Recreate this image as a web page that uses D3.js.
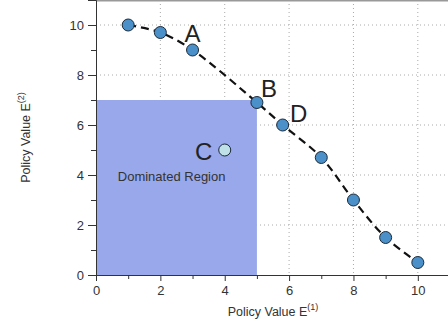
<!DOCTYPE html>
<meta charset="utf-8">
<script src="https://d3js.org/d3.v7.min.js"></script>
<style>
  body { margin: 0; background: #fff; }
  text { font-family: "Liberation Sans", Arial, sans-serif; }
</style>
<div id="chart"></div>
<script>
  // pareto front points
  var frontX = [1, 2, 3, 5, 5.8, 7, 8, 9, 10];
  var frontY = [10, 9.7, 9, 6.9, 6, 4.7, 3, 1.5, 0.5];
  // labelled points
  var labels = [
    { name: "A", x: 3, y: 9 },
    { name: "B", x: 5, y: 6.9 },
    { name: "D", x: 5.8, y: 6 },
    { name: "C", x: 4, y: 5 }
  ];
  var pointC = { x: 4, y: 5 };
  var dominated = { x: 5, y: 7 };
  var majorTicks = [0, 2, 4, 6, 8, 10];
  var minorTicks = [1, 3, 5, 7, 9, 11];

  var margin = { top: 0, right: 0, bottom: 53, left: 96 },
    width = 448 - margin.left - margin.right,
    height = 328 - margin.top - margin.bottom;

  var svg = d3.select("#chart").append("svg")
    .attr("width", 448)
    .attr("height", 328)
    .append("g")
    .attr("transform", "translate(" + margin.left + "," + margin.top + ")");

  var x = d3.scaleLinear().domain([0, 11]).range([0, 354]);
  var y = d3.scaleLinear().domain([0, 11]).range([height, 0]);

  // grid
  svg.append("g").selectAll("line")
    .data(majorTicks.slice(1))
    .enter().append("line")
    .attr("x1", d => x(d)).attr("x2", d => x(d))
    .attr("y1", 0).attr("y2", height)
    .attr("stroke", "#aaa").attr("stroke-dasharray", "1,3");
  svg.append("g").selectAll("line")
    .data(majorTicks.slice(1))
    .enter().append("line")
    .attr("y1", d => y(d)).attr("y2", d => y(d))
    .attr("x1", 0).attr("x2", width)
    .attr("stroke", "#aaa").attr("stroke-dasharray", "1,3");

  // dominated region
  svg.append("rect")
    .attr("x", x(0)).attr("y", y(dominated.y))
    .attr("width", x(dominated.x) - x(0))
    .attr("height", y(0) - y(dominated.y))
    .attr("fill", "#98a8ea");

  svg.append("text")
    .attr("x", x(2.35)).attr("y", y(3.75))
    .attr("text-anchor", "middle")
    .style("font-size", "13px").style("fill", "#333")
    .text("Dominated Region");

  // top frame line
  svg.append("line")
    .attr("x1", 0).attr("x2", width).attr("y1", 0.5).attr("y2", 0.5)
    .attr("stroke", "#999").attr("stroke-width", 2);

  // axes
  var xAxis = svg.append("g")
    .attr("transform", "translate(0," + height + ")")
    .call(d3.axisBottom(x).tickValues(majorTicks).tickSize(6).tickPadding(5));
  var xMinor = svg.append("g")
    .attr("transform", "translate(0," + height + ")")
    .call(d3.axisBottom(x).tickValues(minorTicks).tickSize(4).tickFormat(""));
  var yAxis = svg.append("g")
    .call(d3.axisLeft(y).tickValues(majorTicks).tickSize(8).tickPadding(4));
  var yMinor = svg.append("g")
    .call(d3.axisLeft(y).tickValues(minorTicks).tickSize(5).tickFormat(""));
  [xAxis, yAxis, xMinor, yMinor].forEach(function (a) {
    a.selectAll("text").style("font-size", "13px").style("fill", "#333")
      .style("font-family", "Liberation Sans, Arial, sans-serif");
    a.selectAll("line").attr("stroke", "#333");
    a.select(".domain").attr("stroke", "#333");
  });
  xMinor.select(".domain").remove();
  yMinor.select(".domain").remove();

  // axis titles
  var xt = svg.append("text")
    .attr("x", x(5.5)).attr("y", height + 41)
    .attr("text-anchor", "middle")
    .style("font-size", "12.5px").style("fill", "#333");
  xt.append("tspan").text("Policy Value E");
  xt.append("tspan").attr("dy", -6).style("font-size", "9px").text("(1)");

  var yt = svg.append("text")
    .attr("transform", "translate(-66," + y(5.5) + ") rotate(-90)")
    .attr("text-anchor", "middle")
    .style("font-size", "12.5px").style("fill", "#333");
  yt.append("tspan").text("Policy Value E");
  yt.append("tspan").attr("dy", -6).style("font-size", "9px").text("(2)");

  // dashed front
  var front = frontX.map((d, i) => ({ x: d, y: frontY[i] }));
  svg.append("path")
    .datum(front)
    .attr("d", d3.line().x(d => x(d.x)).y(d => y(d.y)).curve(d3.curveCatmullRom))
    .attr("fill", "none")
    .attr("stroke", "#111")
    .attr("stroke-width", 2.2)
    .attr("stroke-dasharray", "8,5");

  svg.append("g").selectAll("circle")
    .data(front)
    .enter().append("circle")
    .attr("cx", d => x(d.x)).attr("cy", d => y(d.y))
    .attr("r", 6)
    .attr("fill", "#4b90c8")
    .attr("stroke", "#1b2a3a").attr("stroke-width", 1);

  svg.append("circle")
    .attr("cx", x(pointC.x)).attr("cy", y(pointC.y))
    .attr("r", 6)
    .attr("fill", "#bfe0e6")
    .attr("stroke", "#1b2a3a").attr("stroke-width", 1);

  // point labels
  var offs = { A: [0, -8], B: [12, -6], D: [16, -3], C: [-21, 10] };
  svg.append("g").selectAll("text")
    .data(labels)
    .enter().append("text")
    .attr("x", d => x(d.x) + offs[d.name][0])
    .attr("y", d => y(d.y) + offs[d.name][1])
    .attr("text-anchor", "middle")
    .style("font-size", "24px").style("fill", "#222")
    .text(d => d.name);
</script>
